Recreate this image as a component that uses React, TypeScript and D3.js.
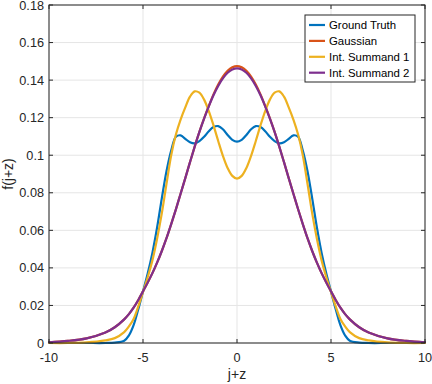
import React from "react";
import * as d3 from "d3";

const xs = [-10,-9,-8,-7,-6.5,-6,-5.75,-5.5,-5.25,-5,-4.75,-4.5,-4.25,-4,-3.75,-3.5,-3.25,-3,-2.75,-2.5,-2.25,-2,-1.75,-1.5,-1.25,-1,-0.75,-0.5,-0.25,
  0,
  0.25,0.5,0.75,1,1.25,1.5,1.75,2,2.25,2.5,2.75,3,3.25,3.5,3.75,4,4.25,4.5,4.75,5,5.25,5.5,5.75,6,6.5,7,8,9,10];

const groundTruth = [0,0,0,0,0.0002,0.0012,0.004,0.0095,0.018,0.0275,0.037,0.048,0.0615,0.077,0.0915,0.1025,0.1098,0.1106,0.1087,0.1069,0.1063,0.1075,0.1098,0.1128,0.115,0.1155,0.1138,0.1108,0.1082,
  0.1072,
  0.1082,0.1108,0.1138,0.1155,0.115,0.1128,0.1098,0.1075,0.1063,0.1069,0.1087,0.1106,0.1098,0.1025,0.0915,0.077,0.0615,0.048,0.037,0.0275,0.018,0.0095,0.004,0.0012,0.0002,0,0,0,0];

const gaussian = [0.0004,0.0011,0.0025,0.0056,0.0084,0.0126,0.0154,0.0188,0.0229,0.0275,0.0322,0.0372,0.0428,0.049,0.0558,0.0633,0.0712,0.0795,0.0878,0.0963,0.1046,0.1124,0.1196,0.1262,0.1324,0.1376,0.1418,0.1449,0.1468,
  0.1475,
  0.1468,0.1449,0.1418,0.1376,0.1324,0.1262,0.1196,0.1124,0.1046,0.0963,0.0878,0.0795,0.0712,0.0633,0.0558,0.049,0.0428,0.0372,0.0322,0.0275,0.0229,0.0188,0.0154,0.0126,0.0084,0.0056,0.0025,0.0011,0.0004];

const summand1 = [0,0,0.0003,0.0014,0.0026,0.0058,0.0088,0.0128,0.0195,0.0272,0.035,0.044,0.0555,0.069,0.0848,0.1,0.111,0.119,0.1255,0.1312,0.134,0.1333,0.1296,0.1235,0.1159,0.1076,0.0997,0.0932,0.089,
  0.0875,
  0.089,0.0932,0.0997,0.1076,0.1159,0.1235,0.1296,0.1333,0.134,0.1312,0.1255,0.119,0.111,0.1,0.0848,0.069,0.0555,0.044,0.035,0.0272,0.0195,0.0128,0.0088,0.0058,0.0026,0.0014,0.0003,0,0];

const summand2 = [0.0004,0.0011,0.0025,0.0056,0.0084,0.0126,0.0154,0.0188,0.0229,0.0275,0.0322,0.0372,0.0428,0.049,0.0558,0.0633,0.0712,0.0795,0.0878,0.0963,0.1046,0.1124,0.1195,0.126,0.1319,0.1369,0.1409,0.1439,0.1457,
  0.1463,
  0.1457,0.1439,0.1409,0.1369,0.1319,0.126,0.1195,0.1124,0.1046,0.0963,0.0878,0.0795,0.0712,0.0633,0.0558,0.049,0.0428,0.0372,0.0322,0.0275,0.0229,0.0188,0.0154,0.0126,0.0084,0.0056,0.0025,0.0011,0.0004];

const seriesNames = ["Ground Truth", "Gaussian", "Int. Summand 1", "Int. Summand 2"];
const seriesColors = ["#0072BD", "#D95319", "#EDB120", "#7E2F8E"];
const seriesValues = [groundTruth, gaussian, summand1, summand2];

const xTicks = [-10, -5, 0, 5, 10];
const yTicks = [0, 0.02, 0.04, 0.06, 0.08, 0.1, 0.12, 0.14, 0.16, 0.18];
const xLabel = "j+z";
const yLabel = "f(j+z)";

const W = 432, H = 384;
const L = 49, R = 425, T = 5, B = 343;
const FONT = "'Liberation Sans', Arial, Helvetica, sans-serif";
const AX = "#262626";

export default function App() {
  const x = d3.scaleLinear().domain([-10, 10]).range([L, R]);
  const y = d3.scaleLinear().domain([0, 0.18]).range([B, T]);
  const line = d3.line<number>()
    .x((_, i) => x(xs[i]))
    .y((d) => y(d))
    .curve(d3.curveCatmullRom.alpha(0.5));

  const legX = 305, legY = 15, legW = 110, legH = 67;
  const rowY = (i: number) => 25 + i * 15.9;

  return (
    <div style={{ position: "fixed", left: 0, top: 0 }}>
      <svg width={W} height={H} style={{ display: "block", background: "#fff" }}>
        <rect x={0} y={0} width={W} height={H} fill="#fff" />
        {xTicks.map((t) => (
          <line key={"gx" + t} x1={x(t)} x2={x(t)} y1={T} y2={B} stroke="#e5e5e5" strokeWidth={1} />
        ))}
        {yTicks.map((t) => (
          <line key={"gy" + t} x1={L} x2={R} y1={y(t)} y2={y(t)} stroke="#e5e5e5" strokeWidth={1} />
        ))}
        <g fill="none" strokeWidth={2.2} strokeLinejoin="round" strokeLinecap="round">
          {seriesValues.map((vals, i) => (
            <path key={seriesNames[i]} d={line(vals) || ""} stroke={seriesColors[i]} />
          ))}
        </g>
        <rect x={L} y={T} width={R - L} height={B - T} fill="none" stroke={AX} strokeWidth={1} />
        {xTicks.map((t) => (
          <g key={"tx" + t}>
            <line x1={x(t)} x2={x(t)} y1={B} y2={B - 4} stroke={AX} />
            <line x1={x(t)} x2={x(t)} y1={T} y2={T + 4} stroke={AX} />
            <text x={x(t)} y={361.5} textAnchor="middle" fontFamily={FONT} fontSize={12.7} fill={AX}>
              {String(t)}
            </text>
          </g>
        ))}
        {yTicks.map((t) => (
          <g key={"ty" + t}>
            <line x1={L} x2={L + 4} y1={y(t)} y2={y(t)} stroke={AX} />
            <line x1={R} x2={R - 4} y1={y(t)} y2={y(t)} stroke={AX} />
            <text x={44} y={y(t)} dy="0.36em" textAnchor="end" fontFamily={FONT} fontSize={12.7} fill={AX}>
              {String(t)}
            </text>
          </g>
        ))}
        <text x={(L + R) / 2} y={379} textAnchor="middle" fontFamily={FONT} fontSize={14} fill={AX}>
          {xLabel}
        </text>
        <text transform={`translate(12.5, ${(T + B) / 2}) rotate(-90)`} textAnchor="middle" fontFamily={FONT} fontSize={14} fill={AX}>
          {yLabel}
        </text>
        <rect x={legX} y={legY} width={legW} height={legH} fill="#fff" stroke={AX} strokeWidth={1} />
        {seriesNames.map((n, i) => (
          <g key={"lg" + n}>
            <line x1={309} x2={325} y1={rowY(i)} y2={rowY(i)} stroke={seriesColors[i]} strokeWidth={2.2} />
            <text x={329} y={rowY(i)} dy="0.36em" fontFamily={FONT} fontSize={11.4} fill="#000">
              {n}
            </text>
          </g>
        ))}
      </svg>
    </div>
  );
}
